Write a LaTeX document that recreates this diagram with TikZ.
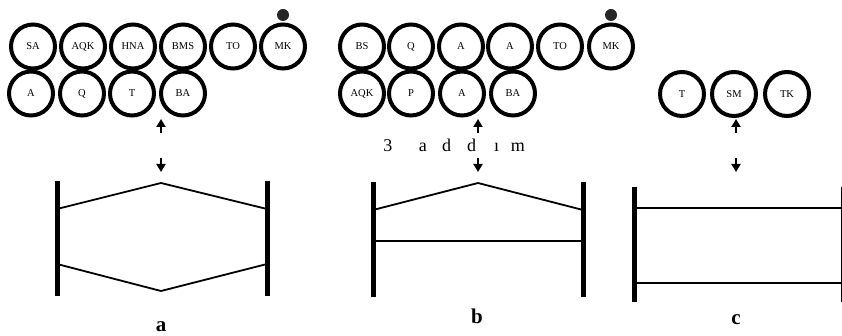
\documentclass[tikz,border=0pt]{standalone}
\usepackage{fontspec}
\setmainfont{Liberation Serif}
\usepackage{tikz}
\usetikzlibrary{arrows.meta}

\begin{document}
\begin{tikzpicture}[
  x=1pt, y=-1pt,
  ring/.style={
    circle, draw, line width=4pt, minimum size=44pt, inner sep=0pt,
    font=\fontsize{10.5}{10.5}\selectfont
  },
  knob/.style={circle, fill=black!85, minimum size=12pt, inner sep=0pt},
  bar/.style={line width=5pt},
  rung/.style={line width=1.8pt},
  arrow/.style={-{Triangle[width=9pt,length=8pt]}, line width=1.8pt},
  caption/.style={anchor=base, font=\fontsize{21}{21}\selectfont\bfseries}
]
\useasboundingbox (0,0) rectangle (842,336);

% --- Panel a: circles ---
\node[ring] (aSA)  at (33,46.5)  {SA};
\node[ring] (aAQK) at (83,46.5)  {AQK};
\node[ring] (aHNA) at (133,46.5) {HNA};
\node[ring] (aBMS) at (183,46.5) {BMS};
\node[ring] (aTO)  at (233,46.5) {TO};
\node[ring] (aMK)  at (283,46.5) {MK};
\node[ring] (aA)   at (31,93.5)  {A};
\node[ring] (aQ)   at (82,93.5)  {Q};
\node[ring] (aT)   at (132,93.5) {T};
\node[ring] (aBA)  at (183,93.5) {BA};
\node[knob] (aDot) at (283,15)   {};

% --- Panel b: circles ---
\node[ring] (bBS)  at (362,46.5) {BS};
\node[ring] (bQ)   at (411,46.5) {Q};
\node[ring] (bA1)  at (461,46.5) {A};
\node[ring] (bA2)  at (510,46.5) {A};
\node[ring] (bTO)  at (560,46.5) {TO};
\node[ring] (bMK)  at (611,46.5) {MK};
\node[ring] (bAQK) at (362,93.5) {AQK};
\node[ring] (bP)   at (411,93.5) {P};
\node[ring] (bA3)  at (462,93.5) {A};
\node[ring] (bBA)  at (513,93.5) {BA};
\node[knob] (bDot) at (611,15)   {};

% --- Panel c: circles ---
\node[ring] (cT)  at (682,94) {T};
\node[ring] (cSM) at (734,94) {SM};
\node[ring] (cTK) at (787,94) {TK};

% --- Step label ---
\node[anchor=base, font=\fontsize{18}{18}\selectfont] (step) at (454,152)
  {3\hspace{26.5pt}a\hspace{15.5pt}d\hspace{16pt}d\hspace{18pt}ı\hspace{11.5pt}m};

% --- Panel a: frame ---
\coordinate (aL1) at (57,181);  \coordinate (aL2) at (57,296);
\coordinate (aR1) at (267,181); \coordinate (aR2) at (267,296);
\coordinate (aTop) at (161,183); \coordinate (aBot) at (161,291);
\draw[bar] (aL1) -- (aL2);
\draw[bar] (aR1) -- (aR2);
\draw[rung] (57,209) -- (aTop) -- (267,209);
\draw[rung] (57,264) -- (aBot) -- (267,264);

% --- Panel b: frame ---
\coordinate (bL1) at (373,182); \coordinate (bL2) at (373,297);
\coordinate (bR1) at (583,182); \coordinate (bR2) at (583,297);
\coordinate (bTop) at (478,183);
\draw[bar] (bL1) -- (bL2);
\draw[bar] (bR1) -- (bR2);
\draw[rung] (373,210) -- (bTop) -- (583,210);
\draw[rung, line width=1.4pt] (373,241) -- (583,241);

% --- Panel c: frame ---
\coordinate (cL1) at (634,187); \coordinate (cL2) at (634,302);
\coordinate (cR1) at (843.5,187); \coordinate (cR2) at (843.5,302);
\draw[bar] (cL1) -- (cL2);
\draw[bar] (cR1) -- (cR2);
\draw[rung] (634,208) -- (842,208);
\draw[rung] (634,283) -- (842,283);

% --- Arrows ---
\coordinate (aUp)   at (161,133); \coordinate (aUpTip) at (161,119);
\coordinate (aDown) at (161,158); \coordinate (aDnTip) at (161,172);
\coordinate (bUp)   at (478,133); \coordinate (bUpTip) at (478,119);
\coordinate (bDown) at (478,158); \coordinate (bDnTip) at (478,172);
\coordinate (cUp)   at (736,133); \coordinate (cUpTip) at (736,119);
\coordinate (cDown) at (736,158); \coordinate (cDnTip) at (736,172);
\draw[arrow] (aUp)   -- (aUpTip);
\draw[arrow] (aDown) -- (aDnTip);
\draw[arrow] (bUp)   -- (bUpTip);
\draw[arrow] (bDown) -- (bDnTip);
\draw[arrow] (cUp)   -- (cUpTip);
\draw[arrow] (cDown) -- (cDnTip);

% --- Captions ---
\node[caption] (capA) at (161,331) {a};
\node[caption] (capB) at (477,323) {b};
\node[caption] (capC) at (736,324) {c};

\end{tikzpicture}
\end{document}
